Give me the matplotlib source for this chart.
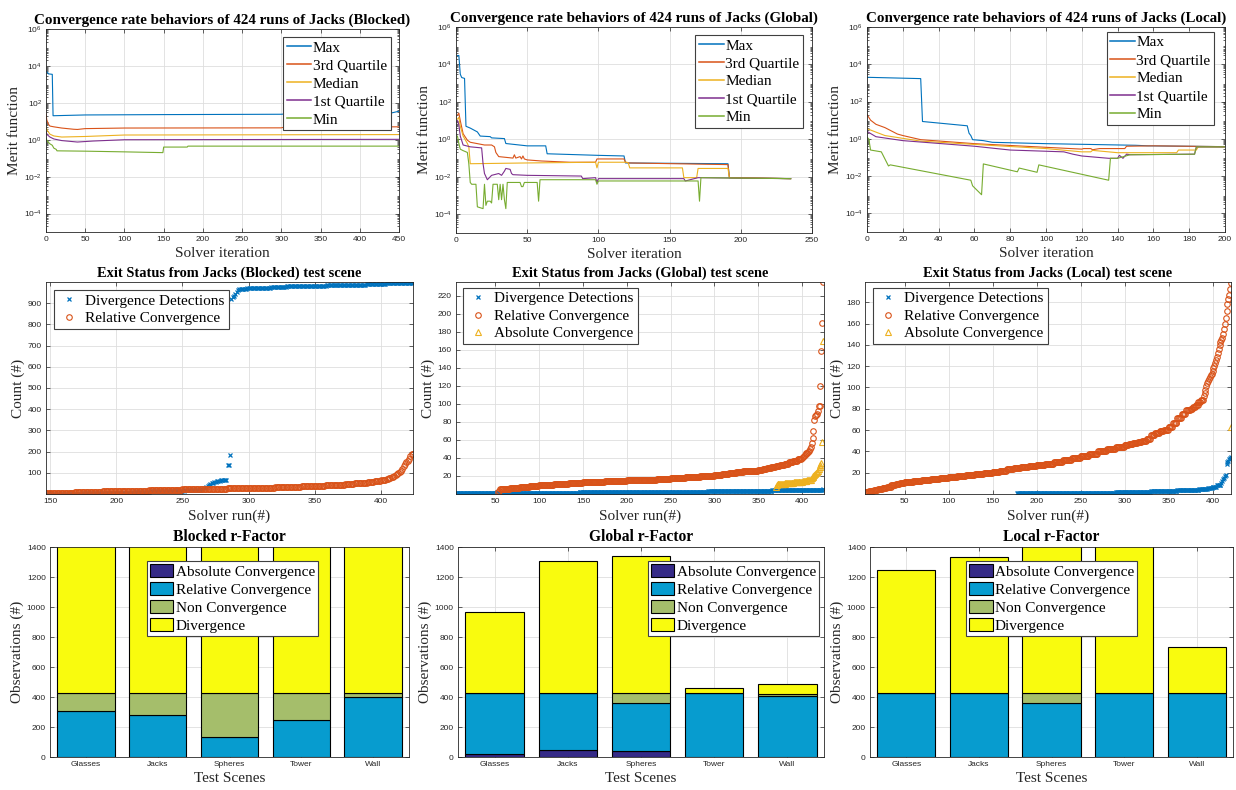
import numpy as np
import matplotlib
matplotlib.use('Agg')
import matplotlib.pyplot as plt
from matplotlib.ticker import LogLocator, NullFormatter

W, H = 1236, 790
SERIF = 'Liberation Serif'
DARK = '#262626'
GRID = '#dedede'

plt.rcParams['font.family'] = 'Liberation Sans'
plt.rcParams['mathtext.default'] = 'regular'

# ---------------- row 1: convergence rate (merit function vs iteration) ----------------
stat_names = ['Max', '3rd Quartile', 'Median', '1st Quartile', 'Min']
stat_colors = ['#0072BD', '#D95319', '#EDB120', '#7E2F8E', '#77AC30']

blk_max_x = [0, 2, 3, 8, 9, 10, 50, 150, 300, 310, 440, 450]
blk_max_y = [5000, 4500, 3700, 3500, 20, 20, 22, 23, 24, 26, 28, 35]
blk_q3_x = [0, 1, 3, 5, 10, 20, 35, 40, 45, 50, 100, 300, 305, 450]
blk_q3_y = [25, 12, 7, 5.5, 5, 4.3, 3.7, 3.6, 3.8, 4.0, 4.3, 4.4, 5.0, 5.0]
blk_med_x = [0, 2, 5, 10, 20, 50, 100, 450]
blk_med_y = [5, 3, 2, 1.6, 1.4, 1.5, 1.8, 1.9]
blk_q1_x = [0, 2, 5, 10, 20, 40, 60, 100, 450]
blk_q1_y = [2.5, 1.8, 1.4, 1.1, 0.9, 0.75, 0.85, 1.0, 1.05]
blk_min_x = [0, 2, 5, 8, 10, 13, 14, 50, 100, 149, 150, 180, 181, 450]
blk_min_y = [1.2, 0.8, 0.6, 0.5, 0.35, 0.3, 0.25, 0.24, 0.22, 0.2, 0.4, 0.4, 0.45, 0.45]

glb_max_x = [1, 2, 3, 4, 6, 7, 10, 15, 17, 24, 25, 34, 35, 50, 63, 64, 100, 118, 119, 191, 192, 235]
glb_max_y = [3e4, 3e4, 3e3, 2e3, 1.8e3, 5, 4, 2.5, 1.5, 1.4, 1.2, 1.1, 0.6, 0.45, 0.45, 0.17, 0.14,
             0.13, 0.055, 0.05, 0.009, 0.008]
glb_q3_x = [1, 2, 3, 5, 8, 10, 20, 25, 27, 28, 30, 40, 41, 42, 45, 46, 47, 48, 50, 60, 80, 98, 99,
            118, 119, 121, 190, 191, 192, 235]
glb_q3_y = [20, 25, 10, 2, 0.9, 0.7, 0.5, 0.5, 0.4, 0.2, 0.12, 0.1, 0.15, 0.1, 0.12, 0.09, 0.13, 0.09,
            0.08, 0.07, 0.06, 0.06, 0.09, 0.09, 0.06, 0.055, 0.045, 0.045, 0.009, 0.008]
glb_med_x = [1, 2, 3, 5, 8, 9, 10, 50, 98, 99, 100, 120, 121, 122, 159, 160, 169, 170, 191, 192, 235]
glb_med_y = [12, 15, 5, 1.5, 0.6, 0.4, 0.05, 0.055, 0.06, 0.03, 0.06, 0.06, 0.055, 0.03, 0.03, 0.009,
             0.009, 0.028, 0.028, 0.009, 0.008]
glb_q1_x = [1, 2, 3, 5, 10, 18, 19, 20, 22, 24, 25, 30, 32, 34, 35, 38, 39, 40, 50, 88, 89, 98, 99,
            100, 160, 161, 170, 235]
glb_q1_y = [10, 6, 1.5, 0.5, 0.4, 0.35, 0.05, 0.015, 0.007, 0.01, 0.012, 0.015, 0.012, 0.02, 0.028,
            0.025, 0.015, 0.013, 0.012, 0.011, 0.008, 0.009, 0.005, 0.008, 0.008, 0.006, 0.009, 0.008]
glb_min_x = [1, 2, 3, 5, 8, 9, 10, 11, 14, 15, 19, 20, 21, 22, 24, 25, 26, 29, 30, 31, 32, 33, 34,
             35, 36, 45, 46, 47, 48, 57, 58, 59, 98, 99, 100, 170, 171, 172, 235]
glb_min_y = [1.5, 0.6, 0.3, 0.25, 0.2, 0.05, 0.005, 0.004, 0.004, 2.5e-4, 2e-4, 0.004, 3e-4, 5e-4,
             5e-4, 4e-4, 0.004, 0.004, 6e-4, 0.004, 6e-4, 0.004, 6e-4, 2e-4, 0.005, 0.005, 0.003,
             0.003, 0.005, 0.005, 5e-4, 0.007, 0.007, 0.004, 0.006, 0.006, 5e-4, 0.009, 0.008]

loc_max_x = [0, 30, 31, 56, 57, 58, 59, 65, 70, 100, 150, 157, 200]
loc_max_y = [2000, 1700, 8.5, 5, 2, 1.5, 0.9, 0.8, 0.65, 0.55, 0.45, 0.42, 0.38]
loc_q3_x = [0, 2, 5, 10, 17, 20, 30, 60, 100, 120, 121, 125, 126, 130, 140, 144, 145, 160, 200]
loc_q3_y = [20, 10, 6, 4, 1.8, 1.5, 0.9, 0.55, 0.35, 0.28, 0.3, 0.3, 0.26, 0.3, 0.3, 0.3, 0.4, 0.42, 0.38]
loc_med_x = [0, 10, 30, 60, 100, 120, 125, 126, 140, 173, 174, 184, 185, 200]
loc_med_y = [3.5, 1.5, 0.75, 0.5, 0.3, 0.2, 0.2, 0.24, 0.18, 0.18, 0.25, 0.25, 0.37, 0.37]
loc_q1_x = [0, 5, 20, 60, 80, 110, 115, 120, 135, 140, 141, 143, 145, 147, 183, 184, 200]
loc_q1_y = [2.5, 1.3, 0.8, 0.4, 0.25, 0.2, 0.15, 0.12, 0.09, 0.09, 0.13, 0.09, 0.15, 0.14, 0.15, 0.37, 0.37]
loc_min_x = [0, 1, 2, 8, 12, 13, 58, 59, 64, 65, 84, 85, 95, 96, 135, 136, 140, 147, 183, 184, 200]
loc_min_y = [1.2, 1.0, 0.25, 0.2, 0.035, 0.04, 0.006, 0.003, 0.001, 0.045, 0.017, 0.027, 0.016, 0.04,
             0.006, 0.09, 0.09, 0.14, 0.15, 0.37, 0.37]

# ---------------- row 2: exit status (sorted counts per run, run-length encoded) ----------------
blk_div_start = 147
blk_div_vals = [1, 2, 3, 4, 6, 9, 12, 15, 18, 22, 26, 30, 34, 38, 42, 46, 50, 53, 56, 58, 60, 62, 63,
                64, 65, 66, 67, 68, 135, 137, 183, 920, 928, 935, 945, 955, 960, 965, 968, 970, 973,
                976, 979, 982, 985, 988, 991, 994, 997]
blk_div_reps = [14, 13, 13, 13, 13, 13, 13, 13, 13, 1, 1, 1, 1, 1, 1, 1, 1, 1, 1, 1, 1, 1, 1,
                1, 1, 1, 1, 1, 1, 1, 1, 1, 1, 1, 1, 1, 1, 1, 5, 8, 10,
                12, 15, 15, 15, 15, 15, 11, 10]
blk_rel_start = 147
blk_rel_vals = [5, 7, 9, 11, 13, 14, 16, 18, 20, 22, 24, 26, 28, 30, 32, 34, 36, 38, 41, 44, 47, 50,
                53, 56, 60, 64, 67, 70, 74, 78, 82, 87, 90, 95, 100, 103, 110, 118, 130, 142, 150,
                155, 166, 180, 188, 190]
blk_rel_reps = [11, 11, 11, 10, 10, 13, 12, 13, 12, 17, 17, 16, 10, 10, 10, 10, 10, 8, 8, 7, 7, 5,
                5, 5, 5, 2, 2, 2, 2, 1, 1, 1, 1, 1, 1, 1, 1, 1, 1, 1, 1,
                1, 1, 1, 1, 1]

glb_div_start = 1
glb_div_vals = [1, 2, 3, 4, 5]
glb_div_reps = [145, 147, 73, 58, 1]
glb_rel_start = 53
glb_rel_vals = [2, 3, 5, 6, 7, 8, 9, 10, 11, 12, 13, 14, 15, 16, 17, 18, 19, 20, 21, 22, 23, 24, 25,
                26, 27, 28, 29, 30, 31, 32, 33, 35, 37, 39, 40, 41, 42, 43, 44, 45, 46, 47, 48, 50,
                52, 57, 62, 70, 82, 86, 88, 89, 92, 97, 98, 120, 158, 190, 235]
glb_rel_reps = [1, 1, 1, 11, 11, 11, 11, 17, 17, 16, 25, 25, 17, 17, 16, 17, 17, 16, 9, 8, 8, 8, 8,
                9, 5, 5, 5, 5, 5, 5, 5, 5, 5, 5, 1, 1, 1, 1, 1, 1, 1, 1, 1, 1,
                1, 1, 1, 1, 1, 1, 1, 1, 1, 1, 1, 1, 1, 1, 1]
glb_abs_start = 370
glb_abs_vals = [8, 10, 11, 12, 13, 14, 16, 18, 19, 20, 21, 22, 23, 24, 25, 28, 30, 32, 34, 58, 170]
glb_abs_reps = [1, 1, 9, 10, 10, 5, 5, 1, 1, 1, 1, 1, 1, 1, 1, 1, 1, 1, 1, 1, 1]

loc_div_start = 178
loc_div_vals = [1, 2, 3, 4, 5, 6, 7, 8, 10, 12, 14, 15, 17, 18, 28, 30, 31, 33, 34, 35]
loc_div_reps = [112, 40, 30, 25, 10, 5, 5, 5, 1, 1, 1, 1, 1, 1, 1, 1, 1, 1, 1, 1]
loc_rel_start = 5
loc_rel_vals = [2, 3, 4, 5, 6, 7, 8, 9, 10, 11, 12, 13, 14, 15, 16, 17, 18, 19, 20, 21, 22, 23, 24,
                25, 26, 27, 28, 30, 32, 34, 36, 38, 40, 42, 44, 46, 47, 48, 49, 50, 52, 55, 57, 59,
                60, 63, 67, 71, 75, 79, 80, 82, 84, 86, 88, 92, 95, 98, 101, 104, 106, 108, 110,
                112, 113, 115, 118, 120, 123, 126, 129, 132, 136, 140, 143, 145, 146, 150, 155,
                160, 165, 172, 178, 183, 187, 192, 198]
loc_rel_reps = [5, 5, 5, 5, 5, 5, 5, 5, 5, 10, 10, 10, 10, 10, 10, 10, 10, 10, 10, 8, 8, 8, 8,
                9, 9, 10, 10, 10, 10, 10, 10, 10, 10, 10, 10, 5, 5, 5, 5, 5, 5, 5, 5, 5,
                5, 5, 5, 5, 5, 5, 3, 3, 3, 3, 3, 1, 1, 1, 1, 1, 1, 1, 1,
                1, 1, 1, 1, 1, 1, 1, 1, 1, 1, 1, 1, 1, 1, 1, 1,
                1, 1, 1, 1, 1, 1, 1, 1]
loc_abs_start = 421
loc_abs_vals = [63]
loc_abs_reps = [1]

# ---------------- row 3: r-factor stacked bars ----------------
scenes = ['Glasses', 'Jacks', 'Spheres', 'Tower', 'Wall']
bar_names = ['Absolute Convergence', 'Relative Convergence', 'Non Convergence', 'Divergence']
bar_colors = ['#352A87', '#079CCF', '#A5BE6B', '#F9FB0E']

blk_abs = [0, 0, 0, 0, 0]
blk_rel = [307, 283, 134, 250, 397]
blk_non = [117, 141, 290, 174, 27]
blk_dvg = [1250, 1300, 1200, 1350, 1400]

glb_abs = [22, 49, 40, 0, 0]
glb_rel = [402, 375, 321, 424, 410]
glb_non = [0, 0, 63, 0, 12]
glb_dvg = [541, 880, 913, 33, 68]

loc_abs = [0, 0, 0, 0, 0]
loc_rel = [424, 424, 362, 424, 424]
loc_non = [0, 0, 62, 0, 0]
loc_dvg = [820, 912, 1150, 1100, 307]


def rect(l, t, r, b):
    return [l / W, 1 - b / H, (r - l) / W, (b - t) / H]


def style(ax, title, tsize, xlabel, ylabel):
    ax.set_title(title, fontfamily=SERIF, fontsize=tsize, fontweight='bold', pad=4)
    ax.set_xlabel(xlabel, fontfamily=SERIF, fontsize=11, color=DARK, labelpad=3)
    ax.set_ylabel(ylabel, fontfamily=SERIF, fontsize=11, color=DARK, labelpad=2)
    ax.tick_params(which='both', direction='in', top=True, right=True, labelsize=6,
                   color=DARK, labelcolor=DARK, width=0.5, length=3, pad=3)
    ax.tick_params(which='minor', length=1.5)
    for s in ax.spines.values():
        s.set_color(DARK)
        s.set_linewidth(0.6)
    ax.grid(True, which='major', color=GRID, lw=0.6)
    ax.set_axisbelow(True)


def legend(ax, loc, anchor, **kw):
    leg = ax.legend(loc=loc, bbox_to_anchor=anchor, borderaxespad=0,
                    prop={'family': SERIF, 'size': 11}, fancybox=False, framealpha=1,
                    edgecolor='#404040', **kw)
    leg.get_frame().set_linewidth(0.8)
    return leg


def rle(start, vals, reps):
    y = np.repeat(vals, reps)
    return start + np.arange(len(y)), y


fig = plt.figure(figsize=(12.36, 7.9), dpi=100)

# row 1
conv = [
    ('Blocked', (46, 29, 399, 232), [(blk_max_x, blk_max_y), (blk_q3_x, blk_q3_y), (blk_med_x, blk_med_y),
                                     (blk_q1_x, blk_q1_y), (blk_min_x, blk_min_y)],
     (0, 450), np.arange(0, 451, 50), (0.977, 0.96)),
    ('Global', (456, 27, 812, 233), [(glb_max_x, glb_max_y), (glb_q3_x, glb_q3_y), (glb_med_x, glb_med_y),
                                     (glb_q1_x, glb_q1_y), (glb_min_x, glb_min_y)],
     (0, 250), np.arange(0, 251, 50), (0.975, 0.961)),
    ('Local', (867, 27, 1225, 232), [(loc_max_x, loc_max_y), (loc_q3_x, loc_q3_y), (loc_med_x, loc_med_y),
                                     (loc_q1_x, loc_q1_y), (loc_min_x, loc_min_y)],
     (0, 200), np.arange(0, 201, 20), (0.97, 0.976)),
]
for name, r, series, xlim, xticks, anchor in conv:
    ax = fig.add_axes(rect(*r))
    for (x, y), lab, c in zip(series, stat_names, stat_colors):
        ax.plot(x, y, color=c, lw=0.8, label=lab)
    ax.set_yscale('log')
    ax.set_ylim(1e-5, 1e6)
    ax.set_yticks([1e-4, 1e-2, 1e0, 1e2, 1e4, 1e6])
    ax.yaxis.set_minor_locator(LogLocator(base=10, subs=np.arange(2, 10), numticks=30))
    ax.yaxis.set_minor_formatter(NullFormatter())
    ax.set_xlim(*xlim)
    ax.set_xticks(xticks)
    style(ax, 'Convergence rate behaviors of 424 runs of Jacks (%s)' % name, 10.8,
          'Solver iteration', 'Merit function')
    leg = legend(ax, 'upper right', anchor, handlelength=1.6, handletextpad=0.1,
                 borderpad=0.25, labelspacing=0.28)
    for ln in leg.get_lines():
        ln.set_linewidth(1.1)

# row 2
exits = [
    ('Blocked', (46, 282, 413, 494), (147, 424), (0, 1000), np.arange(100, 901, 100),
     [rle(blk_div_start, blk_div_vals, blk_div_reps), rle(blk_rel_start, blk_rel_vals, blk_rel_reps)],
     (0.022, 0.962)),
    ('Global', (456, 282, 824, 494), (5, 425), (0, 235), np.arange(20, 221, 20),
     [rle(glb_div_start, glb_div_vals, glb_div_reps), rle(glb_rel_start, glb_rel_vals, glb_rel_reps),
      rle(glb_abs_start, glb_abs_vals, glb_abs_reps)],
     (0.019, 0.972)),
    ('Local', (865, 282, 1231, 494), (5, 421), (0, 199), np.arange(20, 181, 20),
     [rle(loc_div_start, loc_div_vals, loc_div_reps), rle(loc_rel_start, loc_rel_vals, loc_rel_reps),
      rle(loc_abs_start, loc_abs_vals, loc_abs_reps)],
     (0.022, 0.972)),
]
exit_names = ['Divergence Detections', 'Relative Convergence', 'Absolute Convergence']
exit_markers = [('x', '#0072BD', 3.4, 0.9), ('o', '#D95319', 4.0, 0.8), ('^', '#EDB120', 4.0, 0.8)]
for name, r, xlim, ylim, yticks, series, anchor in exits:
    ax = fig.add_axes(rect(*r))
    for (x, y), lab, (m, c, ms, mw) in zip(series, exit_names, exit_markers):
        ax.plot(x, y, linestyle='none', marker=m, ms=ms, mew=mw, mec=c,
                mfc='none', label=lab)
    ax.set_xlim(*xlim)
    ax.set_ylim(*ylim)
    ax.set_xticks([t for t in range(50, 451, 50) if xlim[0] <= t <= xlim[1]])
    ax.set_yticks(yticks)
    style(ax, 'Exit Status from Jacks (%s) test scene' % name, 10.4, 'Solver run(#)', 'Count (#)')
    legend(ax, 'upper left', anchor, handlelength=1.5, handletextpad=0.3,
           borderpad=0.25, labelspacing=0.25)

# row 3
bars = [
    ('Blocked', (50, 547, 409, 757), [blk_abs, blk_rel, blk_non, blk_dvg], 'upper center', (0.508, 0.933)),
    ('Global', (458, 547, 824, 757), [glb_abs, glb_rel, glb_non, glb_dvg], 'upper right', (0.986, 0.933)),
    ('Local', (870, 547, 1233, 757), [loc_abs, loc_rel, loc_non, loc_dvg], 'upper center', (0.5, 0.933)),
]
pos = np.arange(1, len(scenes) + 1)
for name, r, stacks, loc, anchor in bars:
    ax = fig.add_axes(rect(*r))
    bottom = np.zeros(len(scenes))
    for vals, lab, c in zip(stacks, bar_names, bar_colors):
        ax.bar(pos, vals, 0.8, bottom=bottom, color=c, edgecolor='black', lw=0.8, label=lab)
        bottom = bottom + np.array(vals)
    ax.set_xlim(0.5, 5.5)
    ax.set_ylim(0, 1400)
    ax.set_xticks(pos)
    ax.set_xticklabels(scenes)
    ax.set_yticks(np.arange(0, 1401, 200))
    style(ax, '%s r-Factor' % name, 11.2, 'Test Scenes', 'Observations (#)')
    legend(ax, loc, anchor, handlelength=1.55, handleheight=0.95, handletextpad=0.15,
           borderpad=0.2, labelspacing=0.2)

fig.savefig('out.png', dpi=100)
